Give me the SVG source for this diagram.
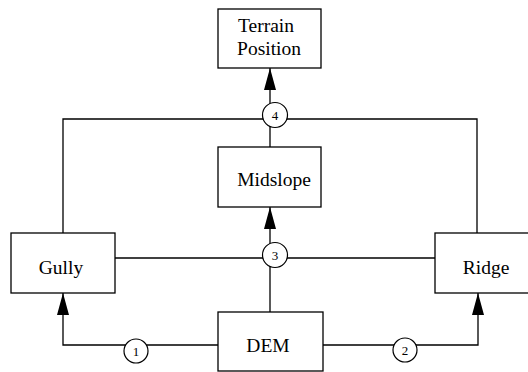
<svg xmlns="http://www.w3.org/2000/svg" width="528" height="372" viewBox="0 0 528 372">
<defs>
<style>
.box{fill:#fff;stroke:#000;stroke-width:1.3}
.lbl{font-family:'Liberation Serif','Times New Roman',Times,serif;font-size:19.5px;fill:#000;text-anchor:middle}
.ln{fill:none;stroke:#000;stroke-width:1.3}
.num{fill:#fff;stroke:#000;stroke-width:1.2}
.nt{font-family:'Liberation Serif','Times New Roman',Times,serif;font-size:13px;fill:#000;text-anchor:middle}
</style>
<marker id="ah" viewBox="0 0 22 12" refX="22" refY="6" markerWidth="22" markerHeight="12" markerUnits="userSpaceOnUse" orient="auto">
<path d="M0,0 L22,6 L0,12 Z" fill="#000"/>
</marker>
</defs>
<rect width="528" height="372" fill="#fff"/>
<g id="connectors">
<polyline class="ln" points="63,233 63,119 477,119 477,233"/>
<line class="ln" x1="270" y1="147" x2="270" y2="68" marker-end="url(#ah)"/>
<line class="ln" x1="115" y1="258" x2="435" y2="258"/>
<line class="ln" x1="270" y1="312" x2="270" y2="207" marker-end="url(#ah)"/>
<polyline class="ln" points="218,345 63,345 63,293" marker-end="url(#ah)"/>
<polyline class="ln" points="323,345 478,345 478,293" marker-end="url(#ah)"/>
<g id="c4"><circle class="num" cx="275" cy="115" r="12.5"/><text class="nt" x="275" y="119.5" font-family="Liberation Serif, serif">4</text></g>
<g id="c3"><circle class="num" cx="275" cy="255" r="12.5"/><text class="nt" x="275" y="259.5" font-family="Liberation Serif, serif">3</text></g>
<g id="c1"><circle class="num" cx="136" cy="351" r="12"/><text class="nt" x="136" y="355.5" font-family="Liberation Serif, serif">1</text></g>
<g id="c2"><circle class="num" cx="405" cy="350" r="12"/><text class="nt" x="405" y="354.5" font-family="Liberation Serif, serif">2</text></g>
</g>
<g id="terrain"><rect class="box" x="218" y="9" width="103" height="59"/><text class="lbl" x="266" y="32" font-family="Liberation Serif, serif">Terrain</text><text class="lbl" x="269" y="55" font-family="Liberation Serif, serif">Position</text></g>
<g id="midslope"><rect class="box" x="218" y="147" width="103" height="60"/><text class="lbl" x="274" y="186" font-family="Liberation Serif, serif">Midslope</text></g>
<g id="gully"><rect class="box" x="11" y="233" width="104" height="60"/><text class="lbl" x="61" y="274" font-family="Liberation Serif, serif">Gully</text></g>
<g id="ridge"><rect class="box" x="435" y="233" width="96" height="60"/><text class="lbl" x="486" y="274" font-family="Liberation Serif, serif">Ridge</text></g>
<g id="dem"><rect class="box" x="218" y="312" width="105" height="59"/><text class="lbl" x="268" y="352" font-family="Liberation Serif, serif">DEM</text></g>
</svg>
